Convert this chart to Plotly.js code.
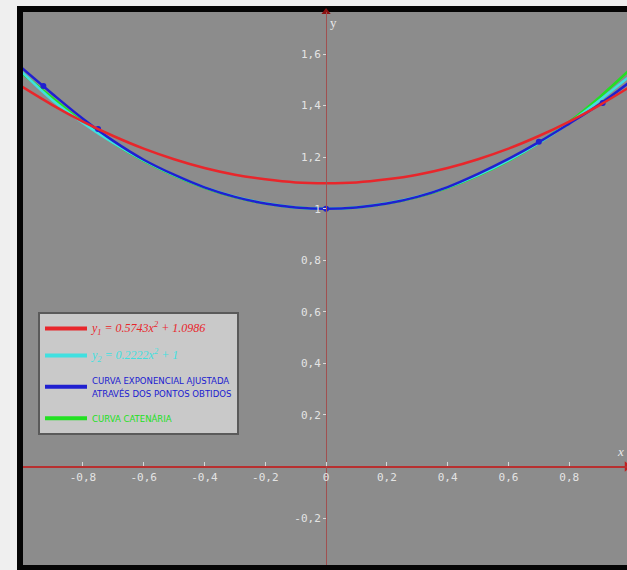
<!DOCTYPE html>
<html>
<head>
<meta charset="utf-8">
<script src="https://cdn.plot.ly/plotly-3.0.1.min.js"></script>
<style>html,body{margin:0;padding:0;background:#efefef;}#chart{width:627px;height:570px;}</style>
</head>
<body>
<div id="chart"></div>
<script>
// ---- data ----
var xs = [-1.0,-0.9,-0.8,-0.7,-0.6,-0.5,-0.4,-0.3,-0.2,-0.1,0,0.1,0.2,0.3,0.4,0.5,0.6,0.7,0.8,0.9,1.0];
var redY   = [1.473,1.402,1.338,1.282,1.233,1.192,1.158,1.132,1.114,1.102,1.099,1.102,1.114,1.132,1.158,1.192,1.233,1.282,1.338,1.402,1.473];
var cyanY  = [1.530,1.421,1.333,1.255,1.187,1.130,1.083,1.047,1.021,1.005,1.000,1.005,1.021,1.047,1.083,1.130,1.187,1.255,1.333,1.421,1.515];
var blueY  = [1.545,1.445,1.349,1.263,1.190,1.132,1.083,1.046,1.020,1.005,1.000,1.005,1.020,1.046,1.084,1.135,1.193,1.258,1.330,1.405,1.492];
var greenY = [1.525,1.430,1.337,1.255,1.185,1.128,1.081,1.045,1.020,1.005,1.000,1.005,1.020,1.045,1.081,1.128,1.185,1.255,1.337,1.433,1.540];
var bluePtsX = [-1.0,-0.93,-0.75,0,0.70,0.91];
var bluePtsY = [1.545,1.476,1.309,1.0,1.26,1.41];
var xTickVals = [-0.8,-0.6,-0.4,-0.2,0,0.2,0.4,0.6,0.8];
var xTickText = ['-0,8','-0,6','-0,4','-0,2','0','0,2','0,4','0,6','0,8'];
var yTickVals = [-0.2,0.2,0.4,0.6,0.8,1.0,1.2,1.4,1.6];
var yTickText = ['-0,2','0,2','0,4','0,6','0,8','1','1,2','1,4','1,6'];
var legendNames = [
  '<span style="color:#e8262b;font-family:Liberation Serif;font-style:italic;font-size:12px">y<sub>1</sub> = 0.5743x<sup>2</sup> + 1.0986</span>',
  '<span style="color:#40e0e0;font-family:Liberation Serif;font-style:italic;font-size:12px">y<sub>2</sub> = 0.2222x<sup>2</sup> + 1</span>',
  '<span style="color:#2020d0">CURVA EXPONENCIAL AJUSTADA<br>ATRAVÉS DOS PONTOS OBTIDOS</span>',
  '<span style="color:#22e022">CURVA CATENÁRIA</span>'
];

var xRange = [-0.997, 0.990];
var yRange = [-0.382, 1.763];

var red = '#e8262b', cyan = '#40e0e0', blue = '#2020d0', green = '#22e022';
var nul = [null];

var traces = [
  {x: xs, y: greenY, mode: 'lines', line: {color: green, width: 2.5, shape: 'spline'}, showlegend: false},
  {x: xs, y: cyanY, mode: 'lines', line: {color: cyan, width: 2.5, shape: 'spline'}, showlegend: false},
  {x: xs, y: blueY, mode: 'lines', line: {color: blue, width: 2.5, shape: 'spline'}, showlegend: false},
  {x: bluePtsX, y: bluePtsY, mode: 'markers', marker: {color: blue, size: 6}, showlegend: false},
  {x: xs, y: redY, mode: 'lines', line: {color: red, width: 2.5, shape: 'spline'}, showlegend: false},
  // legend entries (thicker sample lines, as in the picture)
  {x: nul, y: nul, mode: 'lines', line: {color: red, width: 4}, name: legendNames[0], legendgroup: 'g1'},
  {x: nul, y: nul, mode: 'lines', line: {color: cyan, width: 4}, name: legendNames[1], legendgroup: 'g2'},
  {x: nul, y: nul, mode: 'lines', line: {color: blue, width: 4}, name: legendNames[2], legendgroup: 'g3'},
  {x: nul, y: nul, mode: 'lines', line: {color: green, width: 4}, name: legendNames[3], legendgroup: 'g4'},
  // axis arrow heads
  {x: [xRange[1]], y: [0], mode: 'markers', marker: {symbol: 'triangle-right', color: '#c02020', size: 9}, showlegend: false, cliponaxis: false, hoverinfo: 'skip'},
  {x: [0], y: [yRange[1]], mode: 'markers', marker: {symbol: 'triangle-up', color: '#8b1010', size: 8}, showlegend: false, cliponaxis: false, hoverinfo: 'skip'}
];

var tickFont = {family: 'DejaVu Sans Mono, monospace', size: 11, color: '#e4e4e4'};

var layout = {
  width: 627, height: 570,
  margin: {l: 23, r: 0, t: 12, b: 5, pad: 0},
  paper_bgcolor: '#efefef',
  plot_bgcolor: '#8c8c8c',
  showlegend: true,
  legend: {
    x: (38 - 23) / 604, y: 1 - (312 - 12) / 553, xanchor: 'left', yanchor: 'top',
    bgcolor: '#c9c9c9', bordercolor: '#5a5a5a', borderwidth: 2,
    font: {family: 'Liberation Sans Narrow, DejaVu Sans Condensed, sans-serif', size: 9.5, color: '#2020d0'},
    traceorder: 'grouped', tracegroupgap: 8, itemwidth: 42
  },
  xaxis: {
    range: xRange, anchor: 'free', position: (0 - yRange[0]) / (yRange[1] - yRange[0]),
    showgrid: false, zeroline: false, showline: true, linecolor: '#b83030', linewidth: 2,
    tickmode: 'array', tickvals: xTickVals, ticktext: xTickText,
    ticks: 'inside', ticklen: 4, tickcolor: '#d8d8d8', tickwidth: 1,
    tickfont: tickFont, fixedrange: true
  },
  yaxis: {
    range: yRange, anchor: 'free', position: (0 - xRange[0]) / (xRange[1] - xRange[0]),
    showgrid: false, zeroline: false, showline: true, linecolor: '#a05050', linewidth: 1,
    tickmode: 'array', tickvals: yTickVals, ticktext: yTickText,
    ticks: 'outside', ticklen: 3, tickcolor: '#d8d8d8', tickwidth: 1,
    tickfont: tickFont, fixedrange: true
  },
  shapes: [
    {type: 'rect', xref: 'paper', yref: 'paper', layer: 'below',
     x0: -3 / 604, x1: 1 + 10 / 604, y0: -3 / 553, y1: 1 + 3 / 553,
     fillcolor: '#8c8c8c', line: {color: '#050505', width: 6}}
  ],
  annotations: [
    {xref: 'x', yref: 'paper', x: 0, y: 1, xanchor: 'left', yanchor: 'top', xshift: 2, yshift: -1,
     text: 'y', showarrow: false, font: {family: 'Liberation Serif, serif', size: 13, color: '#e8e8e8'}},
    {xref: 'paper', yref: 'y', x: 1, y: 0, xanchor: 'right', yanchor: 'bottom', xshift: -1, yshift: 6,
     text: '<i>x</i>', showarrow: false, font: {family: 'Liberation Serif, serif', size: 13, color: '#e8e8e8'}}
  ]
};

Plotly.newPlot('chart', traces, layout, {displayModeBar: false, staticPlot: true});
</script>
</body>
</html>
